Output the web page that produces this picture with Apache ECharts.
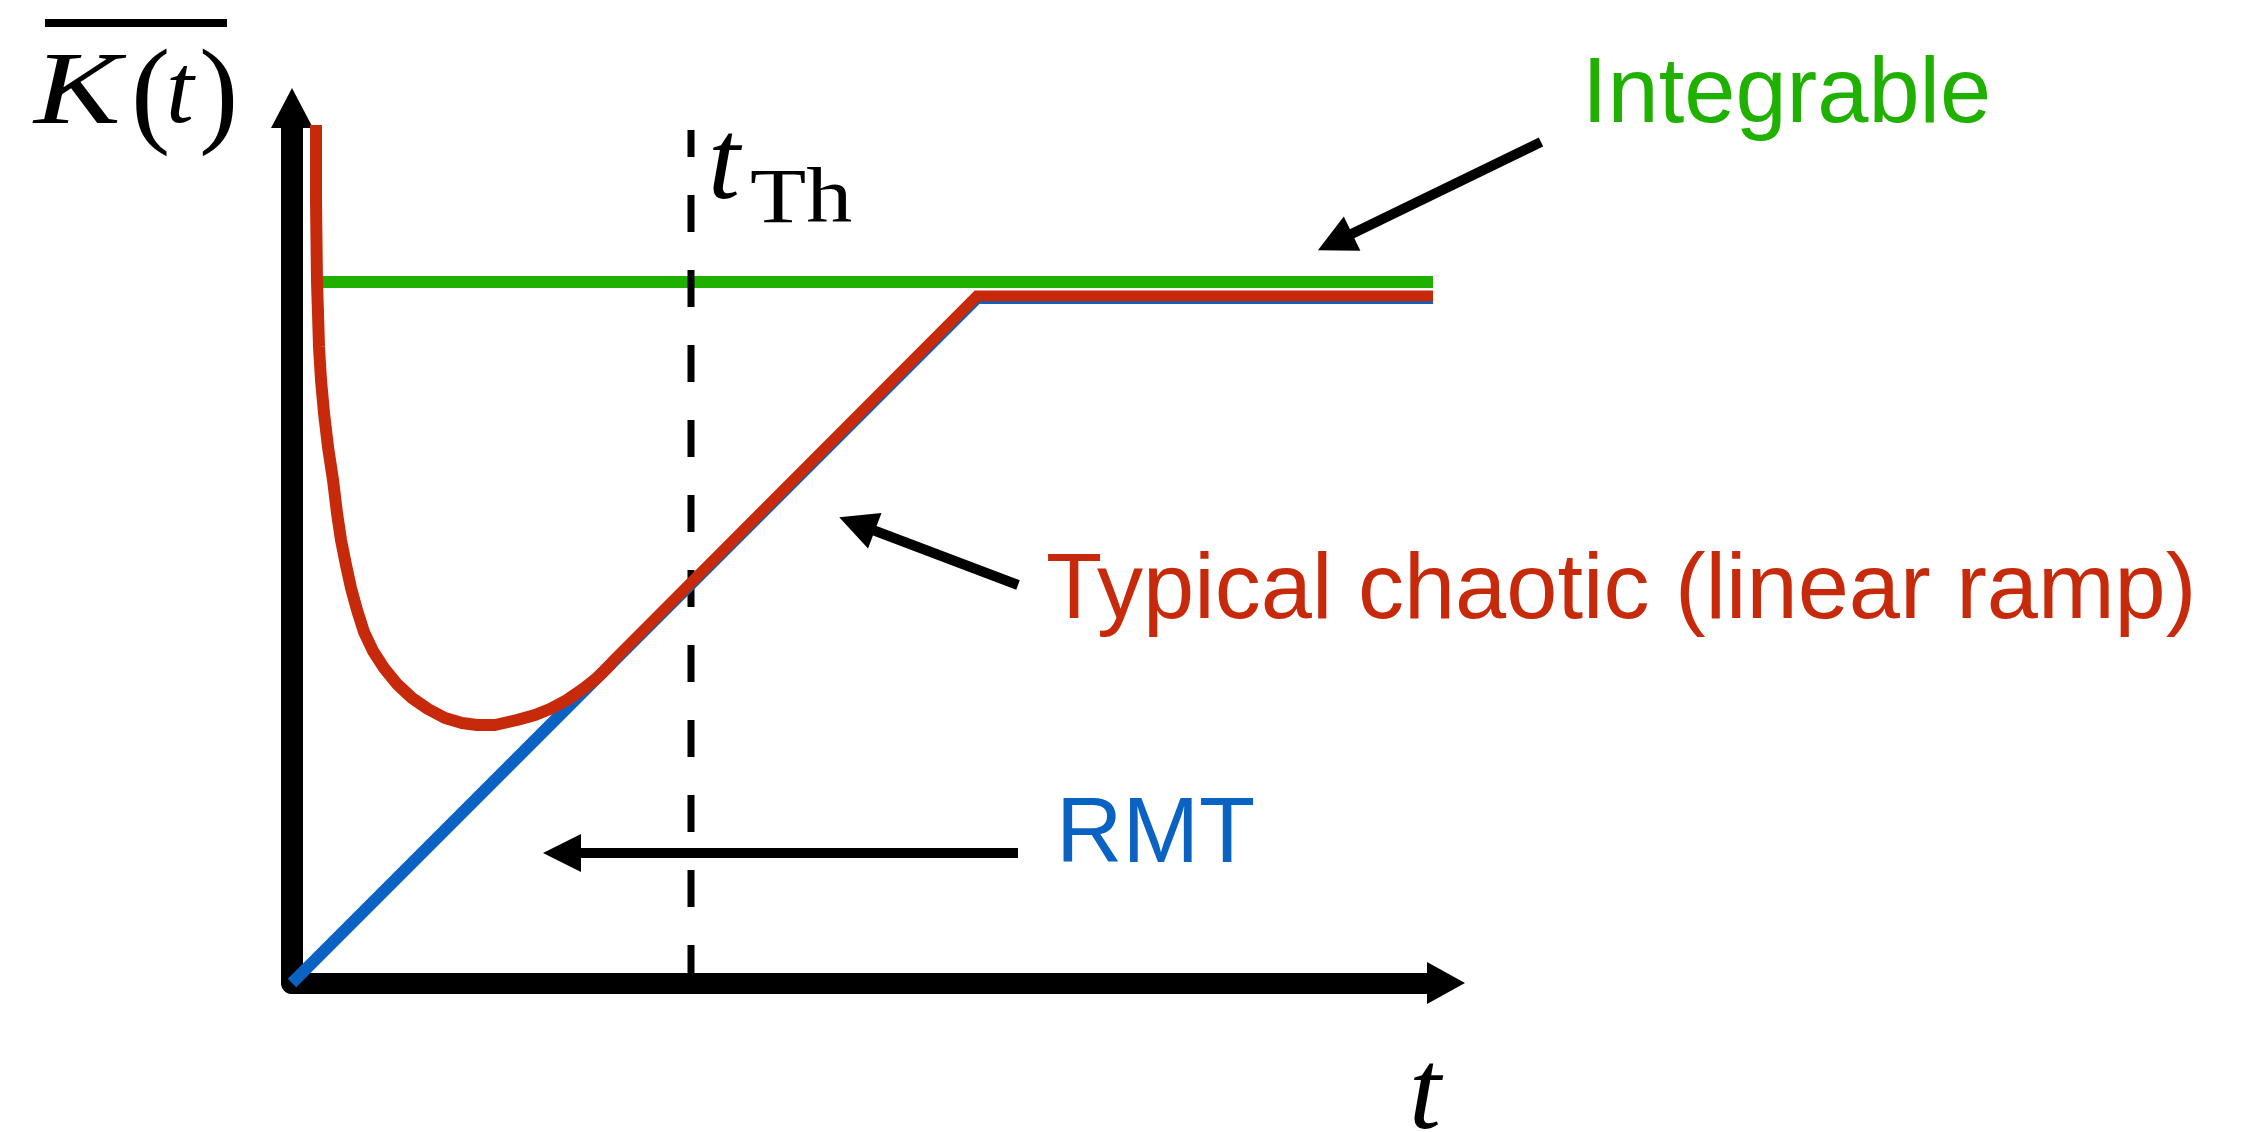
<!DOCTYPE html>
<html>
<head>
<meta charset="utf-8">
<script src="https://cdn.jsdelivr.net/npm/echarts@6/dist/echarts.min.js"></script>
<style>
  html, body { margin: 0; padding: 0; background: #ffffff; }
  #chart { width: 2244px; height: 1132px; }
</style>
</head>
<body>
<div id="chart"></div>
<script>
// Spectral form factor sketch: K(t) against t (arbitrary units)
const tMax = 11.35;
const kMax = 8.55;

// Integrable: flat plateau
const integrableT = [0.30, 11.46];
const integrableK = [7.01, 7.01];

// RMT: linear ramp up to the plateau
const rmtT = [0, 6.85, 11.46];
const rmtK = [0, 6.85, 6.85];

// Typical chaotic: early dip before joining the ramp
const chaoticDipT = [0.24, 0.24, 0.25, 0.26, 0.27, 0.29, 0.32, 0.36, 0.41, 0.45, 0.49, 0.54, 0.59, 0.65,
  0.72, 0.81, 0.92, 1.05, 1.20, 1.36, 1.53, 1.70, 1.85, 2.03, 2.25, 2.43, 2.58, 2.75, 2.91, 3.05, 3.20];
const chaoticDipK = [8.58, 7.83, 7.01, 6.70, 6.36, 6.03, 5.70, 5.36, 5.03, 4.70, 4.43, 4.18, 3.95, 3.73,
  3.51, 3.32, 3.15, 2.99, 2.85, 2.74, 2.65, 2.60, 2.58, 2.58, 2.63, 2.68, 2.74, 2.83, 2.94, 3.05, 3.20];
// Typical chaotic: linear ramp and plateau
const chaoticRampT = [3.20, 6.85, 11.46];
const chaoticRampK = [3.21, 6.87, 6.87];

// Thouless time marker
const thoulessT = 3.99;
const thoulessTop = 8.53;

// Annotation arrows: [tailT, tailK, headT, headK]
const arrowIntegrable = [12.49, 8.41, 10.43, 7.41];
const arrowChaotic = [7.26, 3.98, 5.65, 4.59];
const arrowRmt = [7.26, 1.30, 2.70, 1.30];

const GREEN = '#1fb000';
const RED = '#c7290b';
const BLUE = '#0a63c3';

const zip = (xs, ys) => xs.map((x, i) => [x, ys[i]]);
const arrowData = a => ({ coords: [[a[0], a[1]], [a[2], a[3]]] });

const chart = echarts.init(document.getElementById('chart'), null, { renderer: 'canvas' });

const sansFont = 'Liberation Sans, Arial, Helvetica, sans-serif';

// Text helper: element positioned at (x, y), optionally stretched horizontally
function label(x, y, text, font, fill, scaleX) {
  return {
    type: 'text', x: x, y: y, scaleX: scaleX || 1,
    style: { x: 0, y: 0, text: text, fill: fill || '#000', font: font,
      align: 'left', verticalAlign: 'middle' }
  };
}

chart.setOption({
  backgroundColor: '#ffffff',
  animation: false,
  grid: { left: 292, right: 817, top: 128, bottom: 149, containLabel: false },
  xAxis: {
    type: 'value', min: 0, max: tMax,
    axisLine: {
      show: true, onZero: false,
      symbol: ['none', 'triangle'], symbolSize: [42, 38], symbolOffset: [0, 19],
      lineStyle: { color: '#000', width: 21 }
    },
    axisTick: { show: false }, axisLabel: { show: false }, splitLine: { show: false }
  },
  yAxis: {
    type: 'value', min: 0, max: kMax,
    axisLine: {
      show: true, onZero: false,
      symbol: ['none', 'triangle'], symbolSize: [42, 40], symbolOffset: [0, 20],
      lineStyle: { color: '#000', width: 22 }
    },
    axisTick: { show: false }, axisLabel: { show: false }, splitLine: { show: false }
  },
  series: [
    {
      name: 'Integrable', type: 'line', data: zip(integrableT, integrableK),
      showSymbol: false, clip: false, z: 2,
      lineStyle: { color: GREEN, width: 12, cap: 'butt' }
    },
    {
      name: 't_Th', type: 'line', data: [[thoulessT, thoulessTop], [thoulessT, 0]],
      showSymbol: false, clip: false, z: 3,
      lineStyle: { color: '#000', width: 7, type: [37, 38], dashOffset: 10 }
    },
    {
      name: 'RMT', type: 'line', data: zip(rmtT, rmtK),
      showSymbol: false, clip: false, z: 4,
      lineStyle: { color: BLUE, width: 12, cap: 'butt', join: 'miter' }
    },
    {
      name: 'Typical chaotic', type: 'line', data: zip(chaoticDipT, chaoticDipK),
      showSymbol: false, clip: false, z: 5, smooth: false,
      lineStyle: { color: RED, width: 12, cap: 'butt', join: 'round' }
    },
    {
      name: 'Typical chaotic ramp', type: 'line', data: zip(chaoticRampT, chaoticRampK),
      showSymbol: false, clip: false, z: 5,
      lineStyle: { color: RED, width: 11, cap: 'round', join: 'miter' }
    },
    {
      name: 'Annotations', type: 'lines', coordinateSystem: 'cartesian2d',
      clip: false, z: 6, silent: true,
      symbol: ['none', 'triangle'], symbolSize: 38,
      lineStyle: { color: '#000', width: 10, opacity: 1, curveness: 0 },
      data: [arrowData(arrowIntegrable), arrowData(arrowChaotic), arrowData(arrowRmt)]
    }
  ],
  graphic: [
    // Curve labels
    label(1582, 97, 'Integrable', '92px ' + sansFont, GREEN),
    label(1046, 593, 'Typical chaotic (linear ramp)', '92px ' + sansFont, RED),
    label(1056, 837, 'RMT', '92px ' + sansFont, BLUE),
    // Axis title: overlined K(t)
    { type: 'rect', shape: { x: 45, y: 19, width: 182, height: 8 }, style: { fill: '#000' } },
    label(34, 96, 'K', 'italic 104px "Liberation Serif", "Times New Roman", serif', '#000', 1.25),
    label(131, 100, '(', '118px "Liberation Serif", serif'),
    label(166, 96, 't', 'italic 100px "Liberation Serif", serif'),
    label(199, 100, ')', '118px "Liberation Serif", serif'),
    // Thouless time label
    label(708, 168, 't', 'italic 115px "Liberation Serif", serif'),
    label(750, 202, 'Th', '78px "Liberation Serif", serif', '#000', 1.18),
    // Horizontal axis title
    label(1409, 1098, 't', 'italic 115px "Liberation Serif", serif')
  ]
});
</script>
</body>
</html>
